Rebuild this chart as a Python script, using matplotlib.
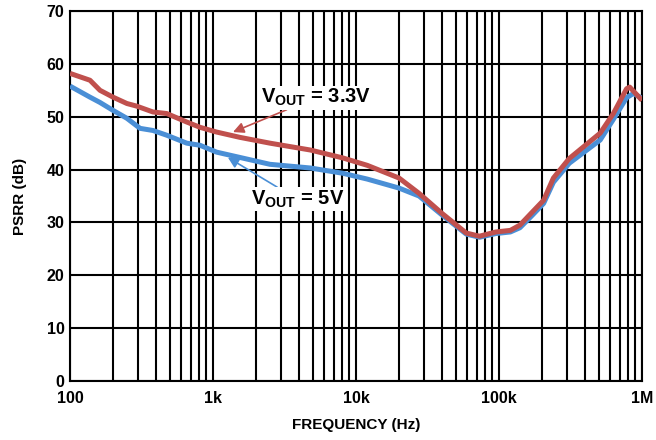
import matplotlib
matplotlib.use("Agg")
import matplotlib.pyplot as plt
import numpy as np

plt.rcParams['font.family'] = ['Liberation Sans', 'DejaVu Sans']
plt.rcParams['font.weight'] = 'bold'
plt.rcParams['mathtext.fontset'] = 'custom'
plt.rcParams['mathtext.rm'] = 'Liberation Sans:bold'
plt.rcParams['mathtext.bf'] = 'Liberation Sans:bold'

# PSRR curves (Hz, dB)
freq_33 = [100, 138, 162, 200, 250, 293, 380, 475, 655, 811, 1060, 1540, 2500, 4800,
           8100, 12000, 20000, 27600, 40000, 59000, 73000, 95000, 120000, 140000,
           170000, 205000, 240000, 310000, 510000, 630000, 780000, 820000, 1000000]
psrr_33 = [58.2, 56.9, 55.0, 53.7, 52.5, 52.0, 50.9, 50.6, 49.0, 48.0, 47.1, 46.1, 45.0, 43.7,
           42.2, 40.8, 38.4, 35.5, 31.7, 28.0, 27.4, 28.2, 28.5, 29.5,
           31.9, 34.2, 38.4, 42.1, 46.9, 50.6, 55.3, 55.6, 53.1]

freq_5 = [100, 138, 162, 200, 250, 309, 380, 475, 655, 811, 1060, 1540, 2500, 4800,
          8100, 12000, 20000, 27600, 40000, 59000, 73000, 95000, 120000, 140000,
          170000, 205000, 240000, 310000, 510000, 630000, 780000, 870000, 1000000]
psrr_5 = [55.8, 53.7, 52.7, 51.2, 49.7, 47.8, 47.4, 46.5, 45.0, 44.6, 43.3, 42.3, 41.0, 40.3,
          39.3, 38.2, 36.5, 35.0, 31.4, 27.8, 27.2, 27.9, 28.2, 29.0,
          31.3, 33.6, 37.6, 41.2, 45.6, 49.5, 53.6, 54.4, 53.5]

x_ticks = [100, 1000, 10000, 100000, 1000000]
x_labels = ['100', '1k', '10k', '100k', '1M']
y_ticks = [0, 10, 20, 30, 40, 50, 60, 70]

red = '#c0504d'
blue = '#4a8fd6'

fig = plt.figure(figsize=(6.56, 4.4), dpi=100)
ax = fig.add_axes([0.1067, 0.134, 0.872, 0.841])

ax.plot(freq_5, psrr_5, color=blue, lw=3.6, solid_capstyle='butt', zorder=3)
ax.plot(freq_33, psrr_33, color=red, lw=3.6, solid_capstyle='butt', zorder=4)

ax.set_xscale('log')
ax.set_xlim(100, 1e6)
ax.set_ylim(0, 70)
ax.set_xticks(x_ticks)
ax.set_xticklabels(x_labels)
ax.set_yticks(y_ticks)
ax.xaxis.set_minor_formatter(matplotlib.ticker.NullFormatter())
ax.tick_params(which='both', length=0, labelsize=11.5)
ax.tick_params(axis='x', pad=7)
ax.tick_params(axis='y', pad=4)
for lab in ax.get_xticklabels() + ax.get_yticklabels():
    lab.set_fontweight('bold')

ax.grid(True, which='both', color='black', lw=1.5)
for s in ax.spines.values():
    s.set_linewidth(1.5)

ax.set_xlabel('FREQUENCY (Hz)', fontsize=11, fontweight='bold', labelpad=9)
ax.set_ylabel('PSRR (dB)', fontsize=11, fontweight='bold', labelpad=14)

ax.annotate(r'$\mathregular{V_{OUT}}$ = 3.3V', xy=(1380, 47.1), xytext=(2150, 53.6),
            fontsize=14.5, fontweight='bold', va='center', ha='left',
            bbox=dict(fc='white', ec='none', pad=1),
            arrowprops=dict(arrowstyle='-|>', color=red, lw=1.2,
                            shrinkA=0, shrinkB=0, mutation_scale=16))
ax.annotate(r'$\mathregular{V_{OUT}}$ = 5V', xy=(1270, 42.3), xytext=(1830, 34.4),
            fontsize=14.5, fontweight='bold', va='center', ha='left',
            bbox=dict(fc='white', ec='none', pad=1),
            arrowprops=dict(arrowstyle='-|>', color=blue, lw=1.2,
                            shrinkA=0, shrinkB=0, mutation_scale=16))

fig.savefig('out.png', dpi=100)
